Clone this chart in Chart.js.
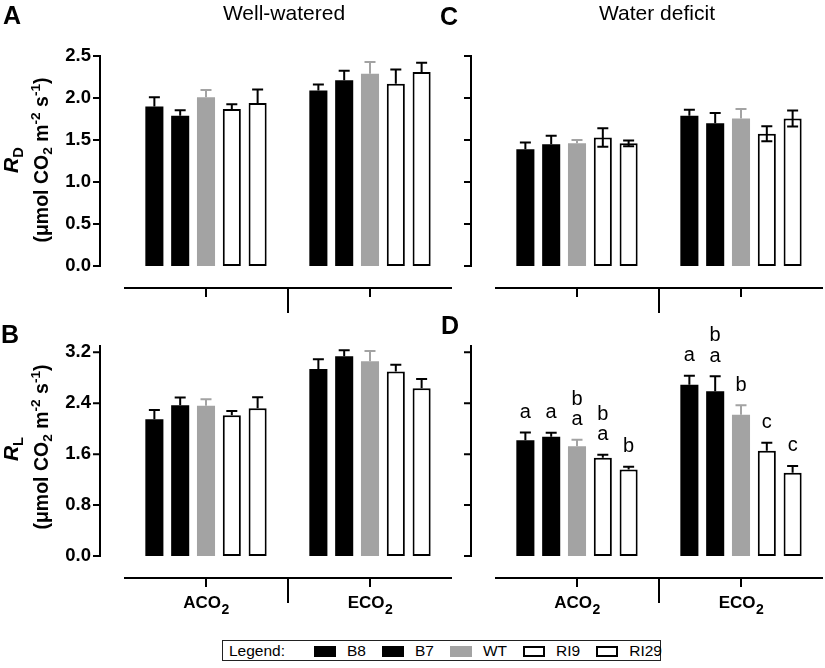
<!DOCTYPE html>
<html>
<head>
<meta charset="utf-8">
<script src="https://cdn.jsdelivr.net/npm/chart.js@4.4.0/dist/chart.umd.min.js"></script>
<style>
  body { margin: 0; background: #fff; font-family: 'Liberation Sans', Arial, sans-serif; }
  #fig { position: relative; width: 825px; height: 668px; overflow: hidden; }
  canvas { position: absolute; }
  .lbl { position: absolute; line-height: 1; white-space: nowrap; color: #000; }
  .panel { font-weight: bold; font-size: 25px; }
  .head { font-size: 21px; transform: translateX(-50%); }
  .ytitle { font-weight: bold; transform: translate(-50%, -50%) rotate(-90deg); }
  .ytitle sub { font-size: 70%; vertical-align: -0.3em; }
  .ytitle sup { font-size: 70%; vertical-align: 0.55em; }
  #legendBox { position: absolute; left: 222px; top: 640px; width: 437px; height: 19px; border: 1px solid #222; }
  #legend { position: absolute; left: 229px; top: 643px; display: flex; align-items: center; font-size: 15.5px; line-height: 1; height: 16px; }
  #legend .sw { width: 22px; height: 11px; box-sizing: border-box; margin-right: 11px; }
  #legend .it { margin-right: 16px; }
</style>
</head>
<body>
<div id="fig">
  <canvas id="cA" width="454" height="335" style="left:0px;top:0px"></canvas>
  <canvas id="cC" width="454" height="335" style="left:371px;top:0px"></canvas>
  <canvas id="cB" width="454" height="335" style="left:0px;top:290px"></canvas>
  <canvas id="cD" width="454" height="335" style="left:371px;top:290px"></canvas>

  <div class="lbl panel" style="left:3px;top:3px">A</div>
  <div class="lbl panel" style="left:440px;top:4px">C</div>
  <div class="lbl panel" style="left:1px;top:322px">B</div>
  <div class="lbl panel" style="left:441px;top:313px">D</div>

  <div class="lbl head" style="left:284px;top:2px">Well-watered</div>
  <div class="lbl head" style="left:657px;top:2px">Water deficit</div>

  <div class="lbl ytitle" style="left:13px;top:160px;font-size:21px"><i>R</i><sub>D</sub></div>
  <div class="lbl ytitle" style="left:42px;top:160px;font-size:19.5px">(μmol CO<sub>2</sub> m<sup>-2</sup> s<sup>-1</sup>)</div>
  <div class="lbl ytitle" style="left:13px;top:449px;font-size:21px"><i>R</i><sub>L</sub></div>
  <div class="lbl ytitle" style="left:42px;top:447px;font-size:19.5px">(μmol CO<sub>2</sub> m<sup>-2</sup> s<sup>-1</sup>)</div>

  <div id="legendBox"></div>
  <div id="legend"></div>
</div>

<script>
const categories = ['ACO₂', 'ECO₂'];
const genotypes = ['B8', 'B7', 'WT', 'RI9', 'RI29'];

// A: R_D well-watered
const rdWellAco = [1.90, 1.79, 2.01, 1.87, 1.94];
const rdWellAcoErr = [0.11, 0.065, 0.085, 0.055, 0.16];
const rdWellEco = [2.09, 2.21, 2.29, 2.17, 2.31];
const rdWellEcoErr = [0.07, 0.115, 0.14, 0.17, 0.11];

// C: R_D water deficit
const rdDefAco = [1.39, 1.45, 1.46, 1.53, 1.46];
const rdDefAcoErr = [0.08, 0.10, 0.04, 0.11, 0.035];
const rdDefEco = [1.79, 1.70, 1.755, 1.575, 1.755];
const rdDefEcoErr = [0.07, 0.12, 0.115, 0.09, 0.095];

// B: R_L well-watered
const rlWellAco = [2.15, 2.37, 2.36, 2.21, 2.32];
const rlWellAcoErr = [0.146, 0.121, 0.105, 0.067, 0.173];
const rlWellEco = [2.94, 3.14, 3.06, 2.90, 2.635];
const rlWellEcoErr = [0.153, 0.094, 0.162, 0.104, 0.146];

// D: R_L water deficit
const rlDefAco = [1.82, 1.875, 1.725, 1.545, 1.36];
const rlDefAcoErr = [0.12, 0.062, 0.103, 0.047, 0.041];
const rlDefEco = [2.69, 2.59, 2.22, 1.655, 1.31];
const rlDefEcoErr = [0.141, 0.235, 0.148, 0.126, 0.105];

// letras de significancia (de abajo hacia arriba)
const rlDefAcoLetters = [['a'], ['a'], ['a', 'b'], ['a', 'b'], ['b']];
const rlDefEcoLetters = [['a'], ['a', 'b'], ['b'], ['c'], ['c']];

const barFill = ['#000000', '#000000', '#a3a3a3', '#ffffff', '#ffffff'];
const barEdge = ['#000000', '#000000', '#a3a3a3', '#000000', '#000000'];
const barEdgeWidth = [0, 0, 0, 2, 2];

Chart.defaults.font.family = "'Liberation Sans', Arial, sans-serif";
Chart.defaults.color = '#000';

function panelPlugin(p) {
  return {
    id: 'panelExtras',
    afterDatasetsDraw(chart) {
      const ctx = chart.ctx;
      const a = chart.chartArea;
      const xs = chart.scales.x;
      const ys = chart.scales.y;
      ctx.save();

      // barras de error
      ctx.lineWidth = 2;
      chart.data.datasets.forEach((ds, i) => {
        const meta = chart.getDatasetMeta(i);
        meta.data.forEach((bar, j) => {
          const err = p.err[j][i];
          const val = ds.data[j];
          const yTop = ys.getPixelForValue(val + err);
          const yLow = p.bothWays && barEdgeWidth[i] > 0 ? ys.getPixelForValue(val - err) : bar.y;
          ctx.strokeStyle = barEdge[i];
          ctx.beginPath();
          ctx.moveTo(bar.x, yLow);
          ctx.lineTo(bar.x, yTop);
          ctx.moveTo(bar.x - 5.5, yTop);
          ctx.lineTo(bar.x + 5.5, yTop);
          if (p.bothWays && barEdgeWidth[i] > 0) {
            ctx.moveTo(bar.x - 5.5, yLow);
            ctx.lineTo(bar.x + 5.5, yLow);
          }
          ctx.stroke();

          if (p.letters) {
            ctx.fillStyle = '#000';
            ctx.font = "20px 'Liberation Sans', Arial, sans-serif";
            ctx.textAlign = 'center';
            ctx.textBaseline = 'alphabetic';
            p.letters[j][i].forEach((l, k) => {
              ctx.fillText(l, bar.x, yTop - 14.5 - 20.5 * k);
            });
          }
        });
      });

      // eje y separado
      ctx.strokeStyle = '#000';
      ctx.lineWidth = 2;
      const ax = a.left - 24;
      ctx.beginPath();
      ctx.moveTo(ax, a.top - 1);
      ctx.lineTo(ax, a.bottom + 1);
      ys.ticks.forEach(t => {
        const y = ys.getPixelForValue(t.value);
        ctx.moveTo(ax - 7, y);
        ctx.lineTo(ax, y);
      });

      // eje x separado
      const ly = a.bottom + 22;
      ctx.moveTo(a.left, ly);
      ctx.lineTo(a.right, ly);
      categories.forEach((c, i) => {
        const x = xs.getPixelForValue(i);
        ctx.moveTo(x, ly);
        ctx.lineTo(x, ly + 9);
      });
      const mid = (xs.getPixelForValue(0) + xs.getPixelForValue(1)) / 2;
      ctx.moveTo(mid, ly);
      ctx.lineTo(mid, ly + 25);
      ctx.stroke();

      // nombres de categorias con subindice
      if (p.showCats) {
        ctx.fillStyle = '#000';
        ctx.textBaseline = 'alphabetic';
        ctx.textAlign = 'left';
        categories.forEach((c, i) => {
          const main = c.replace('₂', '');
          ctx.font = "bold 17px 'Liberation Sans', Arial, sans-serif";
          const w1 = ctx.measureText(main).width;
          ctx.font = "bold 14px 'Liberation Sans', Arial, sans-serif";
          const w2 = ctx.measureText('2').width;
          const x0 = xs.getPixelForValue(i) - (w1 + w2) / 2;
          ctx.font = "bold 17px 'Liberation Sans', Arial, sans-serif";
          ctx.fillText(main, x0, ly + 30);
          ctx.font = "bold 14px 'Liberation Sans', Arial, sans-serif";
          ctx.fillText('2', x0 + w1 + 0.5, ly + 36);
        });
      }
      ctx.restore();
    }
  };
}

function crearPanel(id, aco, eco, acoErr, ecoErr, yMax, step, p) {
  const datasets = genotypes.map((g, i) => ({
    label: g,
    data: [aco[i], eco[i]],
    backgroundColor: barFill[i],
    borderColor: barEdge[i],
    borderWidth: barEdgeWidth[i],
    borderSkipped: false,
    categoryPercentage: 0.787,
    barPercentage: 0.70
  }));
  p.err = [acoErr, ecoErr];
  if (p.letters) p.letters = [p.letters[0], p.letters[1]];

  new Chart(document.getElementById(id), {
    type: 'bar',
    data: { labels: categories, datasets: datasets },
    options: {
      responsive: false,
      animation: false,
      layout: { padding: { top: 56, right: 2, left: 0, bottom: 0 } },
      plugins: { legend: { display: false }, tooltip: { enabled: false } },
      scales: {
        x: {
          grid: { display: false, drawTicks: false },
          border: { display: false },
          ticks: { display: false },
          afterFit: s => { s.height = 69; }
        },
        y: {
          min: 0,
          max: yMax,
          grid: { display: false, drawTicks: false },
          border: { display: false },
          ticks: {
            display: p.showTicks,
            stepSize: step,
            includeBounds: false,
            padding: 33,
            color: '#000',
            font: { size: 18.5, weight: 'bold' },
            callback: v => Number(v).toFixed(1)
          },
          afterFit: s => { s.width = 124; }
        }
      }
    },
    plugins: [panelPlugin(p)]
  });
}

crearPanel('cA', rdWellAco, rdWellEco, rdWellAcoErr, rdWellEcoErr, 2.5, 0.5, { showTicks: true });
crearPanel('cC', rdDefAco, rdDefEco, rdDefAcoErr, rdDefEcoErr, 2.5, 0.5, { showTicks: false, bothWays: true });
crearPanel('cB', rlWellAco, rlWellEco, rlWellAcoErr, rlWellEcoErr, 3.3, 0.8, { showTicks: true, showCats: true });
crearPanel('cD', rlDefAco, rlDefEco, rlDefAcoErr, rlDefEcoErr, 3.3, 0.8,
  { showTicks: false, showCats: true, letters: [rlDefAcoLetters, rlDefEcoLetters] });

// leyenda
const leyenda = document.getElementById('legend');
let html = '<span style="margin-right:29px">Legend:</span>';
genotypes.forEach((g, i) => {
  const borde = barEdgeWidth[i] ? 'border:2px solid #000;' : '';
  html += '<span class="sw" style="background:' + barFill[i] + ';' + borde + '"></span>';
  html += '<span class="it">' + g + '</span>';
});
leyenda.innerHTML = html;
</script>
</body>
</html>
